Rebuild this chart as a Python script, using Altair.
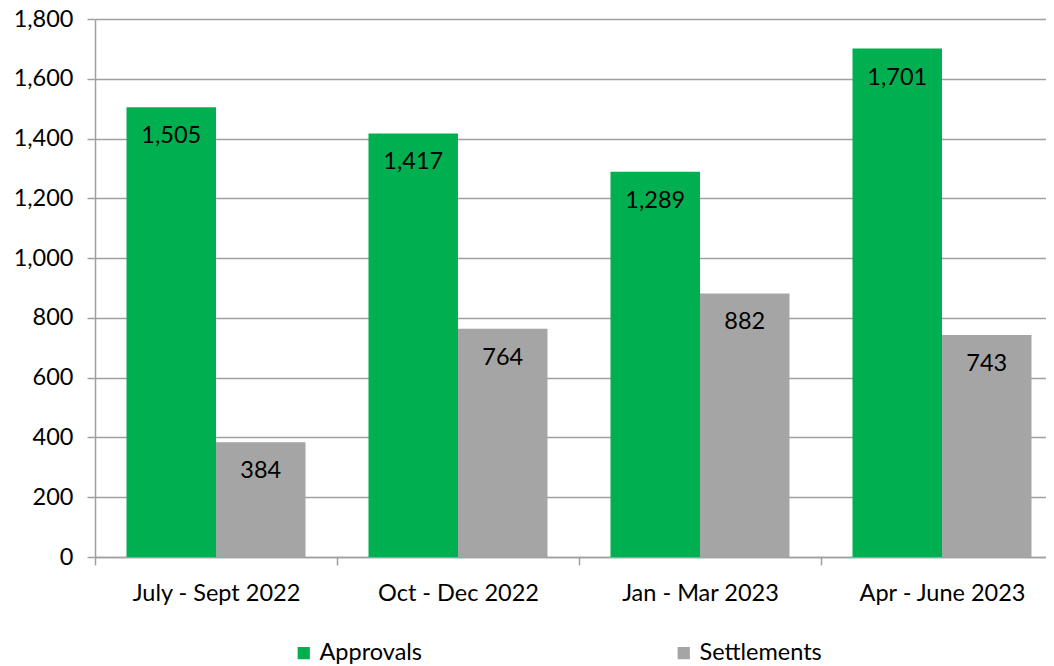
import altair as alt
import pandas as pd

quarters = ["July - Sept 2022", "Oct - Dec 2022", "Jan - Mar 2023", "Apr - June 2023"]
series = ["Approvals", "Settlements"]
approvals = [1505, 1417, 1289, 1701]
settlements = [384, 764, 882, 743]
colors = ["#00B050", "#A5A5A5"]
y_ticks = list(range(0, 1801, 200))

rows = []
for q, a, s in zip(quarters, approvals, settlements):
    rows.append({"quarter": q, "series": series[0], "value": a})
    rows.append({"quarter": q, "series": series[1], "value": s})
df = pd.DataFrame(rows)

FONT = "Lato"
FS = 23.5
GRID = "#a0a0a0"

x = alt.X(
    "quarter:N", sort=quarters, title=None,
    scale=alt.Scale(paddingInner=0, paddingOuter=0),
    axis=alt.Axis(labelAngle=0, tickBand="extent", tickSize=8, tickColor=GRID,
                  tickWidth=1.5, domainColor=GRID, domainWidth=1.5, grid=False,
                  labelFontSize=FS, labelPadding=16, labelFont=FONT, labelColor="black"),
)
xoff = alt.XOffset("series:N", sort=series,
                   scale=alt.Scale(paddingOuter=0.352, paddingInner=0))
y = alt.Y(
    "value:Q", title=None,
    scale=alt.Scale(domain=[0, 1800], nice=False),
    axis=alt.Axis(values=y_ticks, format=",d", tickSize=8, tickColor=GRID, tickWidth=1.5,
                  domainColor=GRID, domainWidth=1.5, grid=True, gridColor=GRID, gridWidth=1.5,
                  labelFontSize=FS, labelPadding=14, labelFont=FONT, labelColor="black"),
)
color = alt.Color(
    "series:N", sort=series,
    scale=alt.Scale(domain=series, range=colors),
    legend=alt.Legend(title=None, orient="none", legendX=197, legendY=622,
                      direction="horizontal", symbolType="square", symbolSize=150,
                      symbolStrokeWidth=0, symbolOpacity=1, labelFontSize=FS, labelFont=FONT,
                      labelColor="black", columnPadding=249, labelOffset=4),
)

base = alt.Chart(df).encode(x=x, xOffset=xoff, y=y)
bars = base.mark_bar(opacity=1).encode(color=color)
labels = base.mark_text(baseline="middle", dy=29, fontSize=FS, font=FONT, color="black").encode(
    text=alt.Text("value:Q", format=",d")
)

chart = (
    alt.layer(bars, labels)
    .properties(width=968, height=538,
                autosize=alt.AutoSizeParams(type="none"),
                padding={"left": 87, "top": 11, "right": -17, "bottom": 109})
    .configure_view(stroke=None)
)

chart.save("out.html", embed_options={"renderer": "svg", "actions": False})
